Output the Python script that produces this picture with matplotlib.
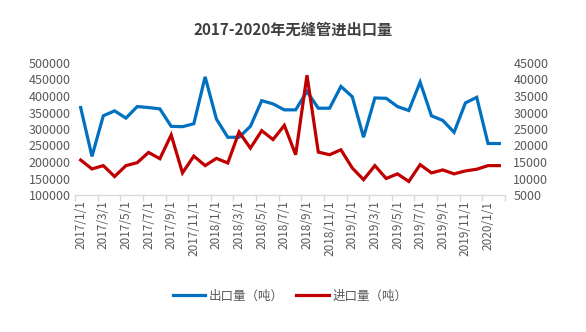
import matplotlib
matplotlib.use('Agg')
import matplotlib.pyplot as plt
import numpy as np

plt.rcParams['font.family'] = ['Noto Sans CJK SC', 'DejaVu Sans']

# monthly, 2017/1 .. 2020/2
months = [f"{y}/{m}/1" for y in (2017, 2018, 2019) for m in range(1, 13)] + ["2020/1/1", "2020/2/1"]

exports = [365000, 217000, 340000, 355000, 333000, 368000, 365000, 361000, 308000, 307000,
           316000, 458000, 330000, 275000, 275000, 308000, 386000, 376000, 358000, 358000,
           414000, 363000, 363000, 429000, 398000, 275000, 394000, 393000, 368000, 356000,
           442000, 340000, 326000, 290000, 379000, 396000, 256000, 256000]

imports = [15600, 12900, 13900, 10600, 13900, 14800, 17900, 16000, 23200, 11700,
           16800, 13900, 16100, 14700, 24100, 19200, 24500, 21800, 26100, 17200,
           41300, 18000, 17200, 18700, 13200, 9650, 13900, 10000, 11400, 9100,
           14200, 11700, 12600, 11400, 12300, 12800, 13900, 13900]

blue = '#0070C0'
red = '#C00000'
grey = '#595959'

fig = plt.figure(figsize=(5.86, 3.32), dpi=100)
ax = fig.add_axes([75 / 586, 1 - 195 / 332, 430 / 586, 132 / 332])
ax2 = ax.twinx()

x = np.arange(len(months))
l1, = ax.plot(x, exports, color=blue, linewidth=2.3, solid_joinstyle='miter')
l2, = ax2.plot(x, imports, color=red, linewidth=2.3, solid_joinstyle='miter')

ax.set_xlim(-0.5, len(months) - 0.5)
ax.set_ylim(100000, 500000)
ax.set_yticks(np.arange(100000, 500001, 50000))
ax2.set_ylim(5000, 45000)
ax2.set_yticks(np.arange(5000, 45001, 5000))

ax.set_xticks(x[::2])
ax.set_xticklabels(months[::2], rotation=90, fontsize=8.5, color=grey)
ax.set_xticks(np.arange(-0.5, len(months), 2), minor=True)
ax.tick_params(axis='x', which='major', length=0, pad=4)
ax.tick_params(axis='x', which='minor', length=4, color='#d9d9d9', width=1)

for a in (ax, ax2):
    for s in ('top', 'left', 'right'):
        a.spines[s].set_visible(False)
    a.spines['bottom'].set_visible(False)
ax.spines['bottom'].set_visible(True)
ax.spines['bottom'].set_color('#d9d9d9')
ax.spines['bottom'].set_linewidth(1)

ax.tick_params(axis='y', length=0, labelsize=9, labelcolor=grey, pad=3)
ax2.tick_params(axis='y', length=0, labelsize=9, labelcolor=grey, pad=6)

fig.text(0.5, 1 - 30 / 332, '2017-2020年无缝管进出口量', ha='center', va='center',
         fontsize=11, fontweight='bold', color='#404040')

fig.legend([l1, l2], ['出口量（吨）', '进口量（吨）'], loc='center',
           bbox_to_anchor=(290 / 586, 1 - 296 / 332), ncol=2, frameon=False,
           fontsize=9, labelcolor=grey, handlelength=2.6, columnspacing=1.0,
           handletextpad=0.3)

fig.savefig('out.png', dpi=100, facecolor='white')
